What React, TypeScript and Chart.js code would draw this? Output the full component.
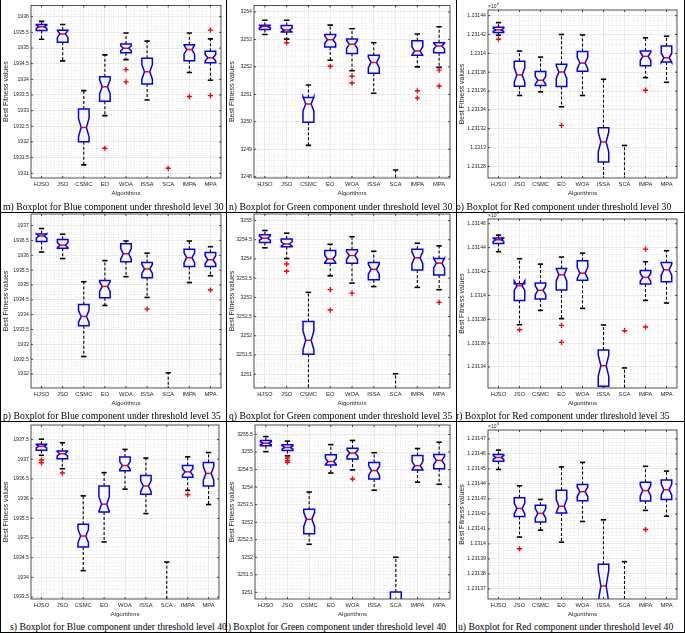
import React, { useEffect, useRef } from 'react';
import { Chart, registerables } from 'chart.js';
Chart.register(...registerables);

const CATEGORIES = ['HJSO', 'JSO', 'CSMC', 'EO', 'WOA', 'ISSA', 'SCA', 'IMPA', 'MPA'];
const RUNS = 30;

// m) Blue component, threshold level 30
const blue30Low = [1935.28, 1934.59, 1931.27, 1932.84, 1934.63, 1933.34, 1926.5, 1934.22, 1933.97];
const blue30Q1 = [1935.56, 1935.18, 1932.01, 1933.3, 1934.85, 1933.85, 1928.0, 1934.59, 1934.53];
const blue30Med = [1935.68, 1935.45, 1932.46, 1933.76, 1934.99, 1934.24, 1928.8, 1934.95, 1934.69];
const blue30Q3 = [1935.75, 1935.57, 1933.05, 1934.08, 1935.13, 1934.67, 1929.5, 1935.1, 1934.9];
const blue30High = [1935.85, 1935.75, 1933.64, 1934.78, 1935.48, 1935.22, 1930.4, 1935.48, 1935.29];
const blue30Out = [[], [], [], [1931.8], [1934.31, 1933.92], [], [1931.16], [1933.45], [1935.57, 1933.48]];

// n) Green component, threshold level 30
const green30Low = [3253.18, 3253.01, 3249.14, 3252.24, 3251.86, 3251.04, 3244.8, 3252.0, 3251.98];
const green30Q1 = [3253.36, 3253.27, 3249.98, 3252.72, 3252.49, 3251.77, 3246.2, 3252.42, 3252.51];
const green30Med = [3253.47, 3253.34, 3250.65, 3252.99, 3252.82, 3252.16, 3246.9, 3252.58, 3252.76];
const green30Q3 = [3253.52, 3253.51, 3250.88, 3253.18, 3253.02, 3252.42, 3247.6, 3252.95, 3252.88];
const green30High = [3253.7, 3253.7, 3251.34, 3253.52, 3253.39, 3252.88, 3248.24, 3253.2, 3253.46];
const green30Out = [[], [3252.88], [], [3252.02], [3251.66, 3251.41], [], [], [3251.13, 3250.86], [3251.88, 3251.3]];

// o) Red component, threshold level 30
const red30Low = [12314.193, 12313.553, 12313.591, 12313.433, 12313.553, 12312.4, 12311.5, 12313.742, 12313.693];
const red30Q1 = [12314.221, 12313.651, 12313.658, 12313.648, 12313.809, 12312.846, 12312.0, 12313.869, 12313.908];
const red30Med = [12314.249, 12313.771, 12313.714, 12313.802, 12313.897, 12313.06, 12312.3, 12313.968, 12313.953];
const red30Q3 = [12314.277, 12313.915, 12313.806, 12313.883, 12314.02, 12313.211, 12312.6, 12314.024, 12314.077];
const red30High = [12314.326, 12314.024, 12313.96, 12314.2, 12314.196, 12313.725, 12313.022, 12314.164, 12314.182];
const red30Out = [[12314.15], [], [], [12313.236], [], [], [], [12313.609], []];

// p) Blue component, threshold level 35
const blue35Low = [1936.11, 1935.89, 1932.59, 1934.31, 1935.28, 1934.58, 1929.5, 1935.08, 1935.31];
const blue35Q1 = [1936.46, 1936.24, 1933.63, 1934.57, 1935.78, 1935.24, 1930.3, 1935.62, 1935.62];
const blue35Med = [1936.65, 1936.34, 1933.94, 1934.95, 1936.05, 1935.54, 1930.8, 1935.92, 1935.85];
const blue35Q3 = [1936.72, 1936.53, 1934.34, 1935.15, 1936.39, 1935.76, 1931.3, 1936.2, 1936.09];
const blue35High = [1936.9, 1936.71, 1935.11, 1935.82, 1936.48, 1936.07, 1932.04, 1936.48, 1936.29];
const blue35Out = [[], [], [], [], [], [1934.19], [], [], [1934.83]];

// q) Green component, threshold level 35
const green35Low = [3254.29, 3254.01, 3250.4, 3253.56, 3253.37, 3253.28, 3249.0, 3253.26, 3253.2];
const green35Q1 = [3254.43, 3254.32, 3251.52, 3253.89, 3253.89, 3253.46, 3249.7, 3253.71, 3253.58];
const green35Med = [3254.54, 3254.39, 3251.88, 3254.0, 3254.09, 3253.73, 3250.1, 3254.03, 3253.89];
const green35Q3 = [3254.63, 3254.52, 3252.37, 3254.22, 3254.24, 3253.91, 3250.5, 3254.25, 3254.01];
const green35High = [3254.74, 3254.67, 3253.13, 3254.38, 3254.58, 3254.2, 3251.01, 3254.41, 3254.34];
const green35Out = [[], [3253.87, 3253.68], [], [3253.2, 3252.67], [3253.11], [], [], [], [3252.87]];

// r) Red component, threshold level 35
const red35Low = [12314.366, 12313.754, 12313.874, 12313.805, 12313.891, 12312.9, 12312.4, 12313.958, 12313.936];
const red35Q1 = [12314.435, 12313.958, 12313.969, 12314.045, 12314.126, 12313.238, 12312.7, 12314.095, 12314.114];
const red35Med = [12314.466, 12314.081, 12314.042, 12314.173, 12314.187, 12313.411, 12312.9, 12314.151, 12314.215];
const red35Q3 = [12314.48, 12314.098, 12314.103, 12314.226, 12314.29, 12313.542, 12313.1, 12314.209, 12314.276];
const red35High = [12314.505, 12314.307, 12314.262, 12314.321, 12314.354, 12313.752, 12313.392, 12314.282, 12314.374];
const red35Out = [[], [12313.712], [], [12313.749, 12313.606], [], [], [12313.704], [12314.388, 12313.735], []];

// s) Blue component, threshold level 40
const blue40Low = [1937.1, 1936.76, 1934.17, 1934.9, 1936.24, 1935.62, 1931.8, 1936.21, 1935.85];
const blue40Q1 = [1937.23, 1937.01, 1934.77, 1935.66, 1936.71, 1936.11, 1932.4, 1936.54, 1936.32];
const blue40Med = [1937.33, 1937.14, 1935.05, 1935.86, 1936.84, 1936.32, 1932.8, 1936.68, 1936.64];
const blue40Q3 = [1937.38, 1937.21, 1935.35, 1936.32, 1937.06, 1936.59, 1933.2, 1936.84, 1936.92];
const blue40High = [1937.51, 1937.42, 1936.07, 1936.66, 1937.25, 1937.03, 1934.39, 1937.06, 1937.17];
const blue40Out = [[1936.98, 1936.91], [1936.65], [], [], [], [], [], [1936.1], []];

// t) Green component, threshold level 40
const green40Low = [3255.01, 3254.89, 3252.37, 3254.4, 3254.49, 3253.91, 3249.5, 3254.14, 3254.08];
const green40Q1 = [3255.18, 3255.04, 3252.67, 3254.63, 3254.8, 3254.23, 3250.1, 3254.49, 3254.52];
const green40Med = [3255.25, 3255.13, 3253.08, 3254.73, 3254.97, 3254.47, 3250.5, 3254.61, 3254.76];
const green40Q3 = [3255.33, 3255.21, 3253.37, 3254.92, 3255.11, 3254.7, 3251.01, 3254.9, 3254.93];
const green40High = [3255.44, 3255.31, 3253.86, 3255.21, 3255.33, 3254.98, 3252.0, 3255.1, 3255.28];
const green40Out = [[], [3254.83, 3254.76, 3254.71], [], [], [3254.23], [], [], [], []];

// u) Red component, threshold level 40
const red40Low = [12314.497, 12314.046, 12314.092, 12314.012, 12314.15, 12313.2, 12312.6, 12314.224, 12314.185];
const red40Q1 = [12314.551, 12314.183, 12314.146, 12314.206, 12314.289, 12313.5, 12313.0, 12314.287, 12314.297];
const red40Med = [12314.577, 12314.237, 12314.204, 12314.252, 12314.349, 12313.72, 12313.2, 12314.356, 12314.362];
const red40Q3 = [12314.596, 12314.308, 12314.258, 12314.358, 12314.397, 12313.865, 12313.4, 12314.412, 12314.427];
const red40High = [12314.626, 12314.388, 12314.297, 12314.514, 12314.544, 12314.161, 12313.882, 12314.518, 12314.486];
const red40Out = [[], [12313.968], [], [], [], [], [], [12314.096], []];

const AXIS = '#262626';
const GRID = 'rgba(38,38,38,0.15)';
const MINOR = 'rgba(38,38,38,0.17)';
const SANS = '"Liberation Sans", Arial, sans-serif';

type Spec = {
  low: number[]; q1: number[]; med: number[]; q3: number[]; high: number[]; out: number[][];
  yMin: number; yMax: number; step: number; minor: number; red: boolean;
  plot: number[]; cellLeft: number; caption: string; capX: number; capY: number;
};

const SPECS: Spec[] = [
  { low: blue30Low, q1: blue30Q1, med: blue30Med, q3: blue30Q3, high: blue30High, out: blue30Out,
    yMin: 1930.85, yMax: 1936.36, step: 0.5, minor: 0.1, red: false, plot: [31, 4, 221, 178], cellLeft: 1,
    caption: 'm) Boxplot for Blue component under threshold level 30', capX: 3, capY: 206.5 },
  { low: green30Low, q1: green30Q1, med: green30Med, q3: green30Q3, high: green30High, out: green30Out,
    yMin: 3247.95, yMax: 3254.24, step: 1, minor: 0.2, red: false, plot: [254, 4, 450, 178], cellLeft: 227,
    caption: 'n) Boxplot for Green component under threshold level 30', capX: 229, capY: 206.5 },
  { low: red30Low, q1: red30Q1, med: red30Med, q3: red30Q3, high: red30High, out: red30Out,
    yMin: 12312.677, yMax: 12314.46, step: 0.2, minor: 0.05, red: true, plot: [488, 10, 677, 178], cellLeft: 457,
    caption: 'o) Boxplot for Red component under threshold level 30', capX: 456, capY: 206.5 },
  { low: blue35Low, q1: blue35Q1, med: blue35Med, q3: blue35Q3, high: blue35High, out: blue35Out,
    yMin: 1931.53, yMax: 1937.39, step: 0.5, minor: 0.1, red: false, plot: [31, 214, 221, 388], cellLeft: 1,
    caption: 'p) Boxplot for Blue component under threshold level 35', capX: 3, capY: 415.5 },
  { low: green35Low, q1: green35Q1, med: green35Med, q3: green35Q3, high: green35High, out: green35Out,
    yMin: 3250.64, yMax: 3255.17, step: 0.5, minor: 0.1, red: false, plot: [254, 214, 450, 388], cellLeft: 227,
    caption: 'q) Boxplot for Green component under threshold level 35', capX: 229, capY: 415.5 },
  { low: red35Low, q1: red35Q1, med: red35Med, q3: red35Q3, high: red35High, out: red35Out,
    yMin: 12313.224, yMax: 12314.64, step: 0.2, minor: 0.05, red: true, plot: [488, 219, 677, 388], cellLeft: 457,
    caption: 'r) Boxplot for Red component under threshold level 35', capX: 456, capY: 415.5 },
  { low: blue40Low, q1: blue40Q1, med: blue40Med, q3: blue40Q3, high: blue40High, out: blue40Out,
    yMin: 1933.45, yMax: 1937.87, step: 0.5, minor: 0.1, red: false, plot: [31, 425, 219, 599], cellLeft: 1,
    caption: 's) Boxplot for Blue component under threshold level 40', capX: 10, capY: 627 },
  { low: green40Low, q1: green40Q1, med: green40Med, q3: green40Q3, high: green40High, out: green40Out,
    yMin: 3250.81, yMax: 3255.77, step: 0.5, minor: 0.1, red: false, plot: [255, 425, 450, 599], cellLeft: 227,
    caption: 't) Boxplot for Green component under threshold level 40', capX: 225, capY: 627 },
  { low: red40Low, q1: red40Q1, med: red40Med, q3: red40Q3, high: red40High, out: red40Out,
    yMin: 12313.633, yMax: 12314.76, step: 0.1, minor: 0.02, red: true, plot: [488, 430, 677, 599], cellLeft: 457,
    caption: 'u) Boxplot for Red component under threshold level 40', capX: 458, capY: 627 },
];

function line(ctx: CanvasRenderingContext2D, x1: number, y1: number, x2: number, y2: number) {
  ctx.beginPath();
  ctx.moveTo(x1, y1);
  ctx.lineTo(x2, y2);
  ctx.stroke();
}

function Panel({ spec }: { spec: Spec }) {
  const ref = useRef<HTMLCanvasElement>(null);
  const [L, T, R, B] = spec.plot;
  const cLeft = spec.cellLeft;
  const cTop = Math.max(0, T - 8);
  const cRight = R + 6;
  const cBottom = B + 19;
  const W = cRight - cLeft;
  const H = cBottom - cTop;

  useEffect(() => {
    const canvas = ref.current!;
    const points: { x: number; y: number }[] = [];
    spec.out.forEach((arr, i) => arr.forEach((v) => points.push({ x: i + 1, y: v })));

    const boxPlugin = {
      id: 'boxes',
      beforeDatasetsDraw(chart: any) {
        const ctx: CanvasRenderingContext2D = chart.ctx;
        const xs = chart.scales.x;
        const ys = chart.scales.y;
        const { left, right, top, bottom } = chart.chartArea;
        ctx.save();
        ctx.beginPath();
        ctx.rect(left, top, right - left, bottom - top);
        ctx.clip();
        // minor grid
        ctx.strokeStyle = MINOR;
        ctx.lineWidth = 0.5;
        ctx.setLineDash([1, 1.5]);
        const ratio = Math.round(spec.step / spec.minor);
        const k0 = Math.ceil(spec.yMin / spec.minor - 1e-6);
        const k1 = Math.floor(spec.yMax / spec.minor + 1e-6);
        for (let k = k0; k <= k1; k++) {
          if (((k % ratio) + ratio) % ratio === 0) continue;
          const y = Math.round(ys.getPixelForValue(k * spec.minor)) + 0.5;
          line(ctx, left, y, right, y);
        }
        for (let k = 3; k <= 47; k++) {
          if (k % 5 === 0) continue;
          const x = Math.round(xs.getPixelForValue(k * 0.2)) + 0.5;
          line(ctx, x, top, x, bottom);
        }
        // boxes
        const hw = xs.getPixelForValue(1.25) - xs.getPixelForValue(1);
        const nw = hw * 0.5;
        const cw = hw * 0.5;
        for (let i = 0; i < CATEGORIES.length; i++) {
          const xc = xs.getPixelForValue(i + 1);
          const q1 = spec.q1[i], q3 = spec.q3[i], med = spec.med[i];
          const notch = (1.57 * (q3 - q1)) / Math.sqrt(RUNS);
          const yLow = ys.getPixelForValue(spec.low[i]);
          const yHigh = ys.getPixelForValue(spec.high[i]);
          const yQ1 = ys.getPixelForValue(q1);
          const yQ3 = ys.getPixelForValue(q3);
          const yMed = ys.getPixelForValue(med);
          const yNLo = ys.getPixelForValue(med - notch);
          const yNHi = ys.getPixelForValue(med + notch);
          // whiskers
          ctx.strokeStyle = '#000';
          ctx.lineWidth = 1.1;
          ctx.setLineDash([3, 2]);
          line(ctx, xc, yQ3, xc, yHigh);
          line(ctx, xc, yQ1, xc, yLow);
          ctx.setLineDash([]);
          ctx.lineWidth = 1.6;
          line(ctx, xc - cw, yHigh, xc + cw, yHigh);
          line(ctx, xc - cw, yLow, xc + cw, yLow);
          // notched box
          ctx.strokeStyle = '#0000ff';
          ctx.lineWidth = 1.5;
          ctx.beginPath();
          ctx.moveTo(xc - hw, yQ1);
          ctx.lineTo(xc - hw, yNLo);
          ctx.lineTo(xc - nw, yMed);
          ctx.lineTo(xc - hw, yNHi);
          ctx.lineTo(xc - hw, yQ3);
          ctx.lineTo(xc + hw, yQ3);
          ctx.lineTo(xc + hw, yNHi);
          ctx.lineTo(xc + nw, yMed);
          ctx.lineTo(xc + hw, yNLo);
          ctx.lineTo(xc + hw, yQ1);
          ctx.closePath();
          ctx.stroke();
          // median
          ctx.strokeStyle = '#ff0000';
          ctx.lineWidth = 1.5;
          line(ctx, xc - nw, yMed, xc + nw, yMed);
        }
        ctx.restore();
      },
      afterDraw(chart: any) {
        const ctx: CanvasRenderingContext2D = chart.ctx;
        const xs = chart.scales.x;
        const ys = chart.scales.y;
        const { left, right, top, bottom } = chart.chartArea;
        ctx.save();
        ctx.strokeStyle = AXIS;
        ctx.lineWidth = 0.8;
        ctx.strokeRect(left, top, right - left, bottom - top);
        const tl = 2;
        ys.ticks.forEach((t: any) => {
          const y = ys.getPixelForValue(t.value);
          line(ctx, left, y, left + tl, y);
          line(ctx, right, y, right - tl, y);
        });
        xs.ticks.forEach((t: any) => {
          const x = xs.getPixelForValue(t.value);
          line(ctx, x, bottom, x, bottom - tl);
          line(ctx, x, top, x, top + tl);
        });
        if (spec.red) {
          ctx.fillStyle = AXIS;
          ctx.textBaseline = 'alphabetic';
          ctx.textAlign = 'left';
          ctx.font = `5px ${SANS}`;
          ctx.fillText('\u00d710', left, top - 2.5);
          const w = ctx.measureText('\u00d710').width;
          ctx.font = `4px ${SANS}`;
          ctx.fillText('4', left + w + 0.3, top - 5);
        }
        ctx.restore();
      },
    };

    const chart = new Chart(canvas, {
      type: 'scatter',
      data: {
        datasets: [
          {
            data: points,
            pointStyle: 'cross',
            pointRadius: 2.6,
            pointBorderWidth: 1.4,
            borderColor: '#ff0000',
            backgroundColor: '#ff0000',
          } as any,
        ],
      },
      options: {
        responsive: false,
        maintainAspectRatio: false,
        animation: false,
        events: [],
        layout: { padding: { left: 0, top: T - cTop, right: cRight - R, bottom: 0 } },
        plugins: { legend: { display: false }, tooltip: { enabled: false } },
        scales: {
          x: {
            type: 'linear',
            min: 0.5,
            max: 9.5,
            afterBuildTicks: (s: any) => {
              s.ticks = CATEGORIES.map((_, i) => ({ value: i + 1 }));
            },
            afterFit: (s: any) => {
              s.height = 19;
            },
            ticks: {
              autoSkip: false,
              maxRotation: 0,
              padding: 3,
              color: AXIS,
              font: { family: SANS, size: 5.8 },
              callback: (v: any) => CATEGORIES[Math.round(Number(v)) - 1] ?? '',
            },
            grid: { color: GRID, lineWidth: 0.6, drawTicks: false },
            border: { display: false },
            title: { display: true, text: 'Algorithms', color: AXIS, padding: 0, font: { family: SANS, size: 6.2 } },
          },
          y: {
            type: 'linear',
            min: spec.yMin,
            max: spec.yMax,
            afterBuildTicks: (s: any) => {
              const a = Math.ceil(spec.yMin / spec.step - 1e-6);
              const b = Math.floor(spec.yMax / spec.step + 1e-6);
              const arr = [];
              for (let k = a; k <= b; k++) arr.push({ value: k * spec.step });
              s.ticks = arr;
            },
            afterFit: (s: any) => {
              s.width = L - cLeft;
            },
            ticks: {
              padding: 2,
              color: AXIS,
              font: { family: SANS, size: 5.2 },
              callback: (v: any) =>
                spec.red ? String(Math.round(Number(v) * 10) / 1e5) : String(Math.round(Number(v) * 100) / 100),
            },
            grid: { color: GRID, lineWidth: 0.6, drawTicks: false },
            border: { display: false },
            title: {
              display: true,
              text: 'Best Fitness values',
              color: AXIS,
              padding: { top: 1, bottom: 0 },
              font: { family: SANS, size: 7 },
            },
          },
        },
      } as any,
      plugins: [boxPlugin as any],
    });
    return () => chart.destroy();
  }, []);

  return (
    <canvas
      ref={ref}
      width={W}
      height={H}
      style={{ position: 'absolute', left: cLeft, top: cTop, width: W, height: H }}
    />
  );
}

export default function App() {
  const vLines = [0, 226, 456, 684];
  const hLines = [212, 421, 632];
  return (
    <div style={{ position: 'absolute', left: 0, top: 0, width: 685, height: 633, background: '#fff', overflow: 'hidden' }}>
      {SPECS.map((s, i) => (
        <Panel key={i} spec={s} />
      ))}
      {SPECS.map((s, i) => (
        <div
          key={'c' + i}
          style={{
            position: 'absolute',
            left: s.capX,
            top: s.capY - 6,
            height: 12,
            lineHeight: '12px',
            whiteSpace: 'nowrap',
            fontFamily: '"Liberation Serif", "Times New Roman", serif',
            fontSize: 9.7,
            color: '#000',
          }}
        >
          {s.caption}
        </div>
      ))}
      {vLines.map((x, i) => (
        <div key={'v' + i} style={{ position: 'absolute', left: x, top: 0, width: 1, height: 633, background: '#000' }} />
      ))}
      {hLines.map((y, i) => (
        <div key={'h' + i} style={{ position: 'absolute', left: 0, top: y, width: 685, height: 1, background: '#000' }} />
      ))}
    </div>
  );
}
